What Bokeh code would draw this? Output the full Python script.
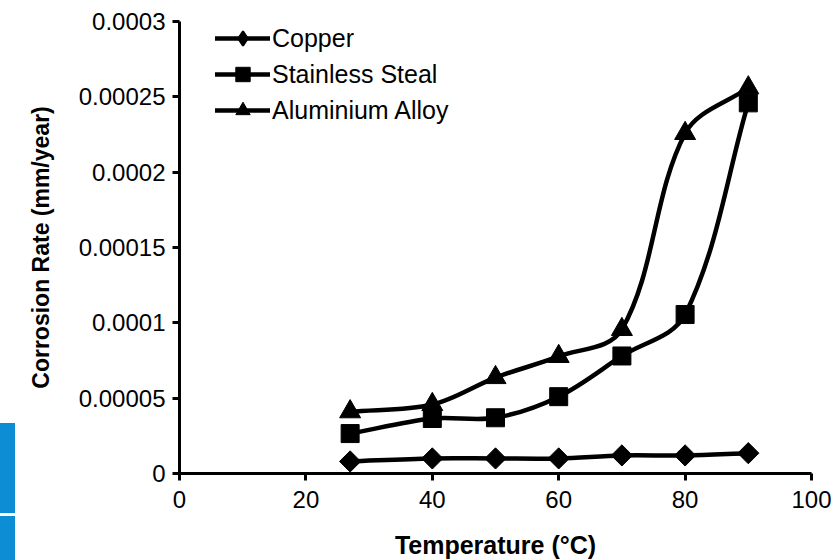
import numpy as np
from bokeh.plotting import figure
from bokeh.layouts import row
from bokeh.models import Range1d, FixedTicker, Legend, LegendItem, Div
from bokeh.embed import file_html
from bokeh.resources import INLINE

# ---- data ----
temperature = [27, 40, 50, 60, 70, 80, 90]
copper = [0.000008, 0.000010, 0.000010, 0.000010, 0.000012, 0.000012, 0.0000135]
stainless_steal = [0.0000265, 0.0000365, 0.000037, 0.000051, 0.000078, 0.0001055, 0.000246]
aluminium_alloy = [0.000041, 0.0000458, 0.0000637, 0.0000777, 0.0000956, 0.0002257, 0.000256]

series_names = ["Copper", "Stainless Steal", "Aluminium Alloy"]
x_ticks = [0, 20, 40, 60, 80, 100]
y_ticks = [0, 0.00005, 0.0001, 0.00015, 0.0002, 0.00025, 0.0003]
y_tick_labels = ["0", "0.00005", "0.0001", "0.00015", "0.0002", "0.00025", "0.0003"]
x_label = "Temperature (°C)"
y_label = "Corrosion Rate (mm/year)"

FONT = "Liberation Sans"
X_MAX, Y_MAX = 100, 0.0003
FRAME_W, FRAME_H = 632, 452
BLUE = "#0C8DD4"


def smooth_segments(xs, ys, kx, ky):
    """Excel-like smoothed line: cubic Bezier segments with length-normalised tangents."""
    u = np.asarray(xs, float) * kx
    v = np.asarray(ys, float) * ky
    n = len(u)
    tu = np.zeros(n)
    tv = np.zeros(n)
    for i in range(n):
        a = max(i - 1, 0)
        b = min(i + 1, n - 1)
        du, dv = u[b] - u[a], v[b] - v[a]
        L = np.hypot(du, dv)
        tu[i], tv[i] = du / L, dv / L
    d = np.hypot(np.diff(u), np.diff(v)) / 3.0
    cu0 = u[:-1] + tu[:-1] * d
    cv0 = v[:-1] + tv[:-1] * d
    cu1 = u[1:] - tu[1:] * d
    cv1 = v[1:] - tv[1:] * d
    return dict(x0=u[:-1] / kx, y0=v[:-1] / ky, x1=u[1:] / kx, y1=v[1:] / ky,
                cx0=cu0 / kx, cy0=cv0 / ky, cx1=cu1 / kx, cy1=cv1 / ky)


p = figure(frame_width=FRAME_W, frame_height=FRAME_H, output_backend="svg", toolbar_location=None,
           x_range=Range1d(0, X_MAX), y_range=Range1d(0, Y_MAX),
           min_border_left=164, min_border_right=29, min_border_top=21, min_border_bottom=87)
p.outline_line_color = None
p.grid.visible = False
p.background_fill_color = "white"
p.border_fill_color = "white"

kx = FRAME_W / X_MAX
ky = FRAME_H / Y_MAX

items = []
for name, vals in zip(series_names, [copper, stainless_steal, aluminium_alloy]):
    seg = smooth_segments(temperature, vals, kx, ky)
    r_line = p.bezier(line_color="black", line_width=4.5, line_cap="round", **seg)
    if name == "Copper":
        # diamond markers (legend swatch) covered by wider rotated squares in the plot
        r_leg = p.scatter(temperature, vals, marker="diamond", size=14,
                          fill_color="black", line_color="black", line_width=2)
        p.scatter(temperature, vals, marker="square", size=15, angle=np.pi / 4,
                  fill_color="black", line_color="black", line_width=1)
        items.append(LegendItem(label=name, renderers=[r_line, r_leg]))
    else:
        mk = "square" if name == "Stainless Steal" else "triangle"
        sz = 18 if name == "Stainless Steal" else 21
        r_pts = p.scatter(temperature, vals, marker=mk, size=sz,
                          fill_color="black", line_color="black", line_width=1)
        items.append(LegendItem(label=name, renderers=[r_line, r_pts]))

legend = Legend(items=items, location=(36, 345))
legend.margin = 0
legend.padding = 0
legend.spacing = 0
legend.glyph_width = 55
legend.glyph_height = 36
legend.label_height = 36
legend.label_standoff = 2
legend.label_text_font = FONT
legend.label_text_font_size = "25px"
legend.label_text_color = "black"
legend.background_fill_alpha = 0
legend.border_line_color = None
p.add_layout(legend)

xa = p.xaxis[0]
ya = p.yaxis[0]
xa.ticker = FixedTicker(ticks=x_ticks)
ya.ticker = FixedTicker(ticks=y_ticks)
ya.major_label_overrides = {t: lab for t, lab in zip(y_ticks, y_tick_labels)}
for ax in (xa, ya):
    ax.axis_line_color = "black"
    ax.axis_line_width = 3
    ax.major_tick_line_color = "black"
    ax.major_tick_line_width = 3
    ax.major_tick_out = 7
    ax.major_tick_in = 0
    ax.minor_tick_out = 0
    ax.minor_tick_in = 0
    ax.major_label_text_font = FONT
    ax.major_label_text_font_size = "24px"
    ax.major_label_text_color = "black"
    ax.axis_label_text_font = FONT
    ax.axis_label_text_font_style = "bold"
    ax.axis_label_text_color = "black"

xa.axis_label = x_label
xa.axis_label_text_font_size = "25px"
xa.major_label_standoff = 10
xa.axis_label_standoff = 20
ya.axis_label = y_label
ya.axis_label_text_font_size = "23px"
ya.major_label_standoff = 7
ya.axis_label_standoff = 22

# page decoration at the left edge of the screenshot: two blue strips
strips_html = (
    f'<div style="position:relative;width:15px;height:560px;">'
    f'<div style="position:absolute;left:0;top:423px;width:15px;height:90px;background:{BLUE};"></div>'
    f'<div style="position:absolute;left:0;top:516px;width:15px;height:44px;background:{BLUE};"></div>'
    f'</div>'
)
side = Div(text=strips_html, width=15, height=560, margin=0)

layout = row(side, p, spacing=0)
open("out.html", "w").write(file_html(layout, INLINE))
